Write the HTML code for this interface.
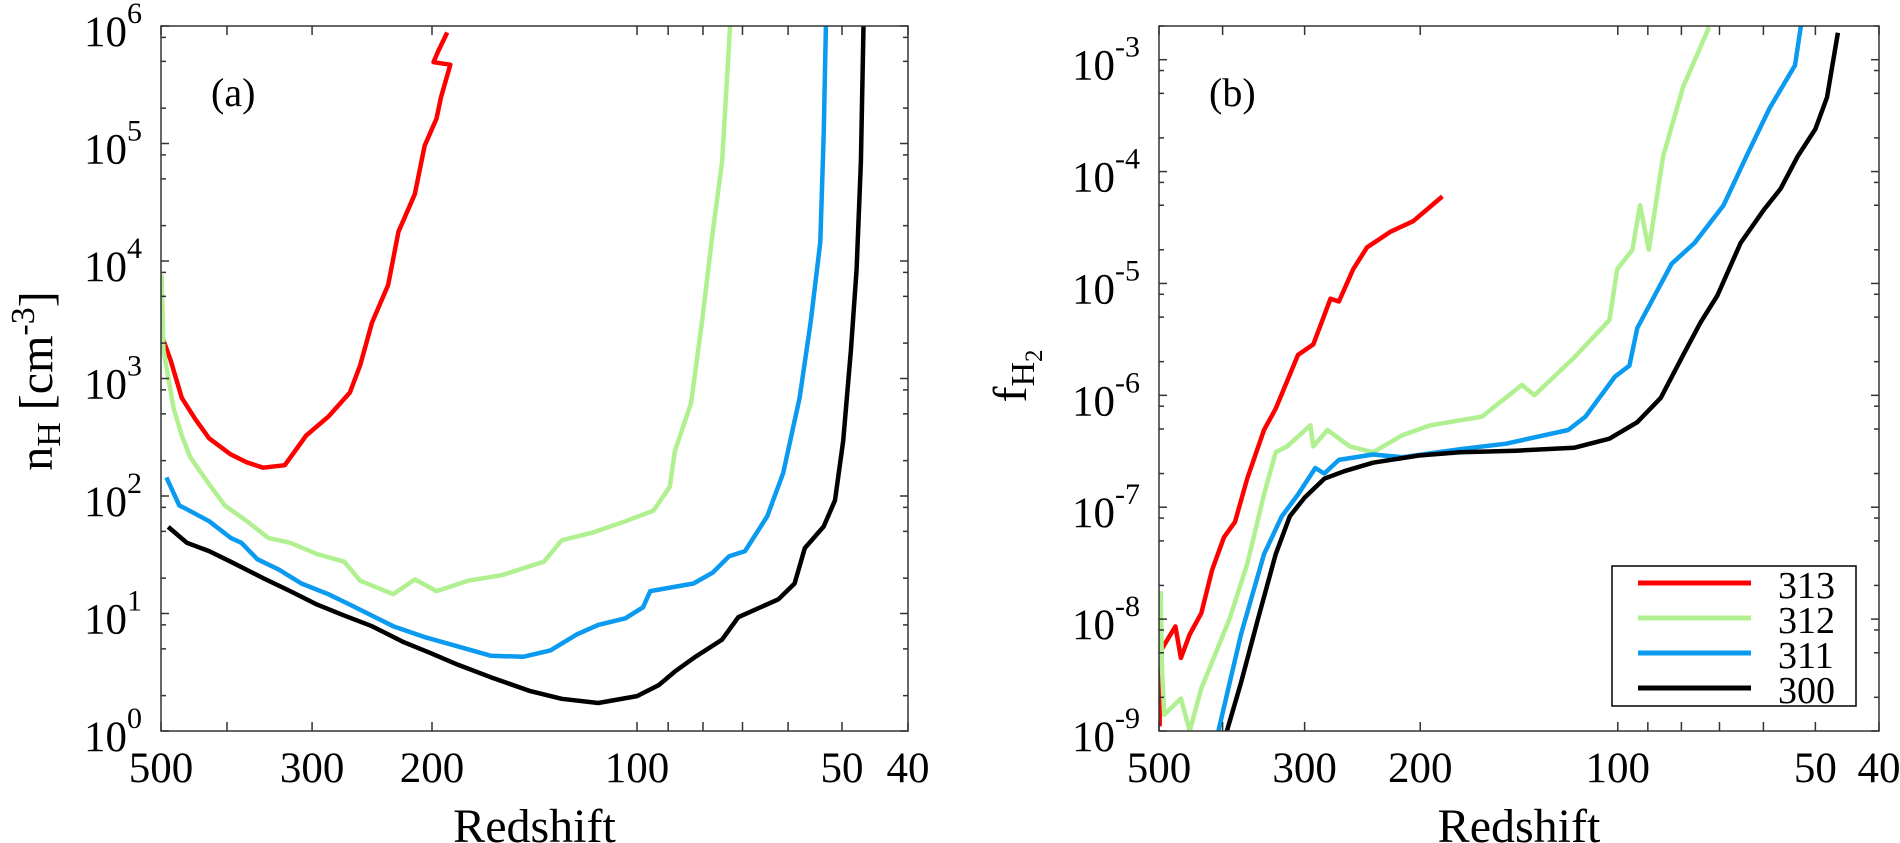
<!DOCTYPE html>
<html><head><meta charset="utf-8">
<style>
html,body{margin:0;padding:0;background:#fff;}
svg{display:block;font-family:"Liberation Serif",serif;}
</style></head>
<body>
<svg id="chart" width="1900" height="843" viewBox="0 0 1900 843" xmlns="http://www.w3.org/2000/svg"></svg>
<script>
// ---- data (redshift, value) ----
const seriesNames = ["313","312","311","300"];
const seriesColors = ["#ff0000","#b0f090","#0a9af0","#000000"];
// panel (a): n_H [cm^-3]
const a313z = [500,484,466,445,425,395,374,354,329,306,284,264,255,245,232,224,212,205,197,194,188,199,196,190];
const a313v = [2420,1430,684,449,310,226,193,174,183,327,473,760,1290,2990,6240,17800,37000,96000,163000,248000,468000,492000,605000,880000];
const a312z = [499,496,479,466,453,425,403,374,348,323,295,269,255,228,212,197,177,158,137,129,116,104,94.6,89.5,88,83.3,80.3,77.4,75,73];
const a312v = [7700,1760,554,327,214,126,83,61,44,40,32,27.6,19,14.6,19.5,15.5,19,21.2,27.6,42,49,61,75,120,240,615,2990,17800,70000,1000000];
const a311z = [491,470,458,425,395,381,361,335,311,284,264,228,205,180,164,147,134,122.5,114,104,98,95.6,82.6,77.4,73.3,69.4,64.4,61,57.7,55.6,53.8,53.2,52.8];
const a311v = [144,83,77,61,44,40,29,23.5,18,14.6,11.9,7.8,6.3,5.1,4.37,4.28,4.85,6.65,8.0,9.1,11.3,15.5,18,22.3,30.6,34,67,157,684,2990,14500,119000,1000000];
const a300z = [488,458,425,395,354,323,295,269,245,220,201,183,164,144,129,114,100,93,88,82,75,71,62,58.7,56.7,53.2,51.2,49.8,48.5,47.6,46.9,46.5];
const a300v = [54.6,40,34,27.6,20,15.5,11.9,9.6,7.8,5.7,4.6,3.65,2.87,2.2,1.88,1.73,1.98,2.45,3.2,4.3,6,9.3,13.2,18,36,55,92,295,1780,8500,70000,1000000];
// panel (b): f_H2
const b313z = [499,497,472,463,449,431,415,398,383,367,346,332,307,291,274,266,253,241,222,205,185];
const b313v = [1.1e-9,5.2e-9,8.6e-9,4.5e-9,7.3e-9,1.13e-8,2.75e-8,5.4e-8,7.4e-8,1.8e-7,4.9e-7,7.6e-7,2.3e-6,2.85e-6,7.3e-6,6.9e-6,1.34e-5,2.1e-5,2.9e-5,3.6e-5,6e-5];
const b312z = [497,495,491,463,449,431,410,390,367,346,332,319,294,291,277,256,236,213,193,161,140,134,116.6,103,100.2,95,92.5,89.7,85.3,79.5,72.6];
const b312v = [1.78e-8,3.8e-9,1.4e-9,1.95e-9,1e-9,2.4e-9,4.95e-9,1.02e-8,3.1e-8,1.3e-7,3.1e-7,3.5e-7,5.4e-7,3.5e-7,4.9e-7,3.5e-7,3.1e-7,4.4e-7,5.4e-7,6.45e-7,1.24e-6,1e-6,2.17e-6,4.7e-6,1.34e-5,2e-5,5e-5,2e-5,1.37e-4,5.75e-4,1.95e-3];
const b311z = [406,375,346,325,307,289,280,266,236,213,174,148,119,112,101,96,93.4,82.8,76.4,69,63.7,58.7,53.7,52.6];
const b311v = [1e-9,7.3e-9,3.8e-8,8.3e-8,1.3e-7,2.24e-7,2e-7,2.65e-7,2.96e-7,2.8e-7,3.3e-7,3.7e-7,4.9e-7,6.45e-7,1.47e-6,1.84e-6,4e-6,1.5e-5,2.3e-5,5e-5,1.37e-4,3.7e-4,8.9e-4,2e-3];
const b300z = [394,375,353,332,316,300,280,261,236,201,174,143,116.6,103,93.4,86,79.5,74.8,70.5,65,60,56.5,53.2,50,48,46.2];
const b300v = [1e-9,2.7e-9,1.02e-8,3.8e-8,8.3e-8,1.22e-7,1.8e-7,2.1e-7,2.5e-7,2.9e-7,3.1e-7,3.2e-7,3.4e-7,4.1e-7,5.75e-7,9.5e-7,2.3e-6,4.5e-6,7.8e-6,2.3e-5,4.5e-5,7e-5,1.37e-4,2.4e-4,4.6e-4,1.74e-3];
// ticks
const xMajorTicks = [500,300,200,100,50,40];
const xMinorTicks = [400,90,80,70,60];
const aYExp = [0,1,2,3,4,5,6];
const bYExp = [-9,-8,-7,-6,-5,-4,-3];
const minorMult = [2,5,8];

const NS = "http://www.w3.org/2000/svg";
const svg = document.getElementById('chart');
function mk(tag, attrs, parent){ const e=document.createElementNS(NS,tag); for(const k in attrs) e.setAttribute(k,attrs[k]); (parent||svg).appendChild(e); return e; }

function makePanel(p){
  const g = mk('g',{});
  
  
  const xs = z => p.x0 + (Math.log10(500) - Math.log10(z)) / (Math.log10(500)-Math.log10(40)) * (p.x1-p.x0);
  const ys = v => p.y1 - (Math.log10(v) - p.lmin) / (p.lmax - p.lmin) * (p.y1-p.y0);
  const cp = mk('clipPath',{id:p.name+'-clip'}, g);
  mk('rect',{x:p.x0,y:p.y0,width:p.x1-p.x0,height:p.y1-p.y0}, cp);
  p.series.forEach((s,i)=>{
    const pts = s[0].map((z,k)=>xs(z).toFixed(1)+','+ys(s[1][k]).toFixed(1)).join(' ');
    const pl = mk('polyline',{points:pts,fill:'none',stroke:seriesColors[i],'stroke-width':4.5,'stroke-linejoin':'round','clip-path':'url(#'+p.name+'-clip)'}, g);
    
    
  });
  const ax = mk('g',{stroke:'#333','stroke-width':1.5,fill:'none'}, g);
  
  
  mk('rect',{x:p.x0,y:p.y0,width:p.x1-p.x0,height:p.y1-p.y0}, ax);
  xMajorTicks.concat(xMinorTicks).forEach(z=>{
    const x=xs(z);
    mk('line',{x1:x,x2:x,y1:p.y1,y2:p.y1-9},ax);
    mk('line',{x1:x,x2:x,y1:p.y0,y2:p.y0+9},ax);
  });
  p.yexp.forEach(e=>{
    const y=ys(Math.pow(10,e));
    mk('line',{x1:p.x0,x2:p.x0+8,y1:y,y2:y},ax);
    mk('line',{x1:p.x1,x2:p.x1-8,y1:y,y2:y},ax);
    minorMult.forEach(m=>{
      const v=m*Math.pow(10,e); const yy=ys(v);
      if(yy>=p.y0-0.5 && yy<=p.y1){
        mk('line',{x1:p.x0,x2:p.x0+5,y1:yy,y2:yy},ax);
        mk('line',{x1:p.x1,x2:p.x1-5,y1:yy,y2:yy},ax);
      }
    });
  });
  xMajorTicks.forEach(z=>{
    const t=mk('text',{x:xs(z),y:p.y1+51,'text-anchor':'middle','font-size':43},g);
    t.textContent=String(z);
    
    
  });
  p.yexp.forEach(e=>{
    const y=ys(Math.pow(10,e));
    const t=mk('text',{x:p.x0-19,y:y+20,'text-anchor':'end','font-size':43},g);
    
    
    t.innerHTML='10<tspan font-size="30" dy="-23">'+e+'</tspan>';
  });
  const xt=mk('text',{x:(p.x0+p.x1)/2,y:842,'text-anchor':'middle','font-size':48},g);
  xt.textContent='Redshift';
  
  
  const pl=mk('text',{x:p.x0+50,y:106,'font-size':40},g);
  pl.textContent=p.label;
  
  
}

makePanel({name:'panel-a',x0:161,x1:908,y0:26,y1:731,lmin:0,lmax:6,yexp:aYExp,label:'(a)',
  series:[[a313z,a313v],[a312z,a312v],[a311z,a311v],[a300z,a300v]]});
makePanel({name:'panel-b',x0:1159,x1:1879,y0:26,y1:731,lmin:-9,lmax:Math.log10(2e-3),yexp:bYExp,label:'(b)',
  series:[[b313z,b313v],[b312z,b312v],[b311z,b311v],[b300z,b300v]]});

const ya = mk('text',{transform:'translate(52,381) rotate(-90)','text-anchor':'middle','font-size':48});


ya.innerHTML = 'n<tspan font-size="34" dy="8">H</tspan><tspan dy="-8"> [cm</tspan><tspan font-size="34" dy="-18">-3</tspan><tspan dy="18">]</tspan>';
const yb = mk('text',{transform:'translate(1026,376) rotate(-90)','text-anchor':'middle','font-size':48});


yb.innerHTML = 'f<tspan font-size="34" dy="8">H</tspan><tspan font-size="25" dy="8">2</tspan>';

const lg = mk('g',{});


mk('rect',{x:1612,y:566,width:244,height:140,fill:'#fff',stroke:'#000','stroke-width':1.5},lg);
seriesNames.forEach((n,i)=>{
  const y=583+i*35;
  const l=mk('line',{x1:1638,x2:1751,y1:y,y2:y,stroke:seriesColors[i],'stroke-width':5},lg);
  
  
  const t=mk('text',{x:1778,y:y+15,'font-size':38},lg);
  t.textContent=n;
  
  
});
</script>
</body></html>
